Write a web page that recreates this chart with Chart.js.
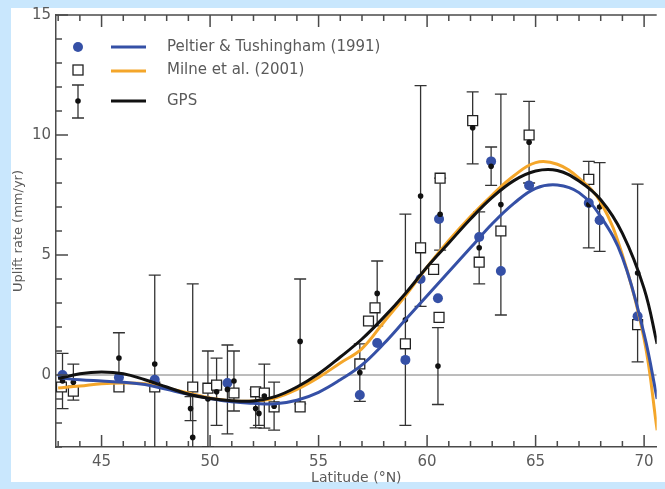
<!DOCTYPE html>
<html><head><meta charset="utf-8">
<script src="https://cdn.jsdelivr.net/npm/chart.js@4"></script>
<style>html,body{margin:0;padding:0;background:#c9e7fd;overflow:hidden}canvas{display:block}</style>
</head><body>
<canvas id="c" width="665" height="489"></canvas>
<script>
// ---- data ----
const curveLat      = [43, 44, 45, 46, 47, 48, 49, 50, 51, 52, 53, 54, 55, 56, 57, 58, 59, 60, 61, 62, 63, 64, 65, 66, 67, 68, 69, 70, 70.6];
const peltierCurve  = [-0.12,-0.2,-0.25,-0.3,-0.4,-0.6,-0.8,-0.98,-1.12,-1.18,-1.2,-1.05,-0.72,-0.2,0.42,1.3,2.3,3.3,4.3,5.3,6.3,7.15,7.78,7.92,7.6,6.6,4.9,1.7,-1.0];
const milneCurve    = [-0.54,-0.46,-0.36,-0.33,-0.36,-0.55,-0.75,-0.96,-1.08,-1.08,-0.96,-0.6,-0.1,0.5,1.1,2.2,3.3,4.5,5.6,6.6,7.5,8.3,8.85,8.78,8.2,7.2,5.0,1.5,-2.3];
const gpsCurve      = [-0.15,0.05,0.12,0.05,-0.2,-0.5,-0.8,-0.98,-1.07,-1.08,-0.9,-0.5,0.05,0.75,1.5,2.4,3.4,4.5,5.5,6.5,7.4,8.1,8.5,8.52,8.08,7.3,5.9,3.6,1.3];

const peltierLat = [43.2, 45.8, 47.45, 50.8, 56.9, 57.7, 59.0, 59.7, 60.5, 60.55, 62.4, 62.95, 63.4, 64.7, 67.45, 67.95, 69.7];
const peltierVal = [0.0, -0.1, -0.2, -0.33, -0.83, 1.33, 0.63, 4.0, 3.2, 6.5, 5.75, 8.9, 4.33, 7.9, 7.17, 6.45, 2.45];

const milneLat = [43.15, 43.7, 45.8, 47.45, 49.2, 49.9, 50.3, 51.1, 52.1, 52.5, 52.95, 54.15, 56.9, 57.3, 57.6, 59.0, 59.7, 60.3, 60.55, 60.6, 62.1, 62.4, 63.4, 64.7, 67.45, 69.7];
const milneVal = [-0.5, -0.67, -0.5, -0.5, -0.5, -0.55, -0.42, -0.75, -0.7, -0.75, -1.33, -1.33, 0.46, 2.25, 2.8, 1.3, 5.3, 4.4, 2.4, 8.2, 10.6, 4.7, 6.0, 10.0, 8.15, 2.1];

const gpsLat = [43.2, 43.7, 45.8, 47.45, 49.1, 49.2, 49.9, 50.3, 50.8, 51.1, 52.1, 52.25, 52.5, 52.95, 54.15, 56.9, 57.7, 59.0, 59.7, 60.5, 60.6, 62.1, 62.4, 62.95, 63.4, 64.7, 67.45, 67.95, 69.7];
const gpsVal = [-0.25, -0.3, 0.71, 0.46, -1.4, -2.6, -1.0, -0.7, -0.6, -0.25, -1.4, -1.6, -0.88, -1.3, 1.4, 0.1, 3.4, 2.3, 7.46, 0.37, 6.7, 10.3, 5.3, 8.7, 7.1, 9.7, 7.1, 7.0, 4.25];
const gpsErr = [1.15, 0.75, 1.05, 3.7, 0.5, 6.4, 2.0, 1.4, 1.85, 1.25, 0.8, 0.5, 1.33, 1.0, 2.6, 1.2, 1.35, 4.4, 4.6, 1.6, 1.5, 1.5, 1.5, 0.8, 4.6, 1.7, 1.8, 1.85, 3.7];

const xTickValues = [45, 50, 55, 60, 65, 70];
const yTickValues = [0, 5, 10, 15];

const legendLabels = ['Peltier & Tushingham (1991)', 'Milne et al. (2001)', 'GPS'];

// ---- colours ----
const BLUE = '#3550a6', ORANGE = '#f4a62a', BLACK = '#111111', TEXT = '#5a5a5a', AXIS = '#4a4a4a';
const FONT = 'DejaVu Sans';

const toXY = (xs, ys) => xs.map((x, i) => ({x, y: ys[i]}));

const panelPlugin = {
  id: 'panel',
  beforeDraw(chart) {
    const ctx = chart.ctx;
    ctx.save();
    ctx.fillStyle = '#ffffff';
    ctx.fillRect(11, 8, chart.width - 11, 474);
    ctx.restore();
  }
};

const errorBarPlugin = {
  id: 'errorBars',
  beforeDatasetsDraw(chart) {
    const {ctx, chartArea: a, scales: {x, y}} = chart;
    ctx.save();
    ctx.beginPath(); ctx.rect(a.left, a.top, a.right - a.left, a.bottom - a.top); ctx.clip();
    ctx.strokeStyle = '#7a7a7a'; ctx.lineWidth = 1;
    ctx.beginPath(); ctx.moveTo(a.left, y.getPixelForValue(0)); ctx.lineTo(a.right, y.getPixelForValue(0)); ctx.stroke();
    ctx.strokeStyle = '#333'; ctx.lineWidth = 1.3;
    gpsLat.forEach((lat, i) => {
      const px = x.getPixelForValue(lat);
      const top = y.getPixelForValue(gpsVal[i] + gpsErr[i]);
      const bot = y.getPixelForValue(gpsVal[i] - gpsErr[i]);
      ctx.beginPath();
      ctx.moveTo(px, top); ctx.lineTo(px, bot);
      ctx.moveTo(px - 6, top); ctx.lineTo(px + 6, top);
      ctx.moveTo(px - 6, bot); ctx.lineTo(px + 6, bot);
      ctx.stroke();
    });
    ctx.restore();
  }
};

const axesPlugin = {
  id: 'axesTicks',
  afterDraw(chart) {
    const {ctx, chartArea: a, scales: {x, y}} = chart;
    ctx.save();
    ctx.strokeStyle = AXIS; ctx.lineWidth = 1.5;
    ctx.beginPath(); ctx.moveTo(a.left, a.top); ctx.lineTo(a.right, a.top); ctx.stroke();
    ctx.beginPath();
    for (let v = Math.ceil(x.min); v <= Math.floor(x.max); v++) {
      const len = v % 5 === 0 ? 12 : 6;
      const px = x.getPixelForValue(v);
      ctx.moveTo(px, a.bottom); ctx.lineTo(px, a.bottom - len);
      ctx.moveTo(px, a.top); ctx.lineTo(px, a.top + len);
    }
    for (let v = Math.ceil(y.min); v <= Math.floor(y.max); v++) {
      const len = v % 5 === 0 ? 12 : 6;
      const py = y.getPixelForValue(v);
      ctx.moveTo(a.left, py); ctx.lineTo(a.left + len, py);
    }
    ctx.stroke();

    // legend
    const rows = [47, 70, 101];
    ctx.lineWidth = 3;
    ctx.strokeStyle = BLUE; ctx.beginPath(); ctx.moveTo(111, rows[0]); ctx.lineTo(146, rows[0]); ctx.stroke();
    ctx.strokeStyle = ORANGE; ctx.beginPath(); ctx.moveTo(111, rows[1] + 1); ctx.lineTo(146, rows[1] + 1); ctx.stroke();
    ctx.strokeStyle = BLACK; ctx.beginPath(); ctx.moveTo(111, rows[2]); ctx.lineTo(146, rows[2]); ctx.stroke();
    ctx.fillStyle = BLUE; ctx.beginPath(); ctx.arc(78, rows[0], 5, 0, Math.PI * 2); ctx.fill();
    ctx.fillStyle = '#fff'; ctx.strokeStyle = '#222'; ctx.lineWidth = 1.3;
    ctx.fillRect(73, rows[1] - 5, 10, 10); ctx.strokeRect(73, rows[1] - 5, 10, 10);
    ctx.strokeStyle = '#333';
    ctx.beginPath();
    ctx.moveTo(78, 85); ctx.lineTo(78, 118);
    ctx.moveTo(72, 85); ctx.lineTo(84, 85);
    ctx.moveTo(72, 118); ctx.lineTo(84, 118);
    ctx.stroke();
    ctx.fillStyle = BLACK; ctx.beginPath(); ctx.arc(78, rows[2], 2.8, 0, Math.PI * 2); ctx.fill();
    ctx.fillStyle = TEXT; ctx.font = '15px "' + FONT + '"'; ctx.textBaseline = 'middle';
    legendLabels.forEach((t, i) => ctx.fillText(t, 167, rows[i]));
    ctx.restore();
  }
};

new Chart(document.getElementById('c'), {
  type: 'scatter',
  data: {
    datasets: [
      {label: 'GPS fit', type: 'line', data: toXY(curveLat, gpsCurve), borderColor: BLACK, borderWidth: 3, pointRadius: 0, tension: 0.4, fill: false},
      {label: 'Peltier curve', type: 'line', data: toXY(curveLat, peltierCurve), borderColor: BLUE, borderWidth: 3, pointRadius: 0, tension: 0.4, fill: false},
      {label: 'Milne curve', type: 'line', data: toXY(curveLat, milneCurve), borderColor: ORANGE, borderWidth: 3, pointRadius: 0, tension: 0.4, fill: false},
      {label: 'GPS', data: toXY(gpsLat, gpsVal), pointRadius: 2.8, pointBackgroundColor: BLACK, pointBorderWidth: 0, backgroundColor: BLACK},
      {label: 'Peltier', data: toXY(peltierLat, peltierVal), pointRadius: 5, pointBackgroundColor: BLUE, pointBorderWidth: 0, backgroundColor: BLUE},
      {label: 'Milne', data: toXY(milneLat, milneVal), pointStyle: 'rect', pointRadius: 7, pointBackgroundColor: '#ffffff', pointBorderColor: '#222', pointBorderWidth: 1.3}
    ]
  },
  options: {
    responsive: false,
    animation: false,
    layout: {padding: {top: 15, right: 0, left: 0, bottom: 0}},
    plugins: {legend: {display: false}, tooltip: {enabled: false}},
    scales: {
      x: {
        type: 'linear', min: 42.9, max: 70.58,
        afterBuildTicks: s => { s.ticks = xTickValues.map(v => ({value: v})); },
        afterFit: s => { s.height = 42; },
        grid: {display: false, drawTicks: false},
        border: {display: true, color: AXIS, width: 1.5},
        ticks: {color: TEXT, font: {family: FONT, size: 15}, padding: 6, maxRotation: 0},
        title: {display: true, text: 'Latitude (°N)', color: TEXT, font: {family: FONT, size: 14}, padding: {top: 0, bottom: 2}}
      },
      y: {
        type: 'linear', min: -3, max: 15,
        afterBuildTicks: s => { s.ticks = yTickValues.map(v => ({value: v})); },
        afterFit: s => { s.width = 56; },
        grid: {display: false, drawTicks: false},
        border: {display: true, color: AXIS, width: 1.5},
        ticks: {color: TEXT, font: {family: FONT, size: 15}, padding: 5},
        title: {display: true, text: 'Uplift rate (mm/yr)', color: TEXT, font: {family: FONT, size: 13}, padding: {top: 11, bottom: 0}}
      }
    }
  },
  plugins: [panelPlugin, errorBarPlugin, axesPlugin]
});
</script>
</body></html>
